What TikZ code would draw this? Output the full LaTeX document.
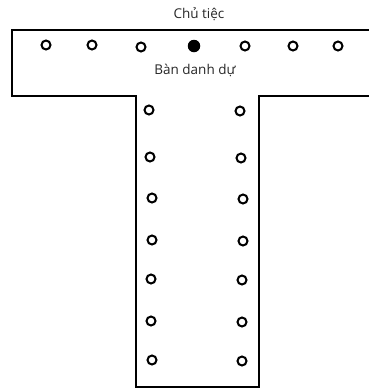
\documentclass[tikz,border=0pt]{standalone}
\usepackage{fontspec}
\setmainfont{Open Sans}
\begin{document}
\begin{tikzpicture}[x=1pt,y=-1pt,
  wall/.style={line width=2.6pt,line cap=rect},
  seat/.style={circle,draw,line width=2pt,minimum size=9pt,inner sep=0pt},
  host/.style={circle,fill,minimum size=12.5pt,inner sep=0pt},
  lbl/.style={font=\fontsize{13.5}{15}\selectfont,text=black!85,inner sep=0pt}]
\useasboundingbox (0,0) rectangle (369,389);
\coordinate (a) at (12,30);
\coordinate (b) at (372,30);
\coordinate (c) at (12,96);
\coordinate (d) at (136,96);
\coordinate (e) at (136,387);
\coordinate (f) at (259,387);
\coordinate (g) at (259,96);
\coordinate (h) at (372,96);
\draw[wall] (b) -- (a) -- (c) -- (d) -- (e) -- (f) -- (g) -- (h);
\node[lbl] (t1) at (199,14) {Chủ tiệc};
\node[lbl] (t2) at (195,70) {Bàn danh dự};
\node[seat] (s1) at (46,45) {};
\node[seat] (s2) at (92,45) {};
\node[seat] (s3) at (141,47) {};
\node[host] (s4) at (194,46) {};
\node[seat] (s5) at (245,46) {};
\node[seat] (s6) at (293,46) {};
\node[seat] (s7) at (338,46) {};
\node[seat] (l1) at (149,110) {};
\node[seat] (l2) at (150,157) {};
\node[seat] (l3) at (152,198) {};
\node[seat] (l4) at (152,240) {};
\node[seat] (l5) at (151,279) {};
\node[seat] (l6) at (151,321) {};
\node[seat] (l7) at (152,360) {};
\node[seat] (r1) at (240,111) {};
\node[seat] (r2) at (241,158) {};
\node[seat] (r3) at (243,199) {};
\node[seat] (r4) at (243,241) {};
\node[seat] (r5) at (242,280) {};
\node[seat] (r6) at (242,322) {};
\node[seat] (r7) at (242,361) {};
\end{tikzpicture}
\end{document}
